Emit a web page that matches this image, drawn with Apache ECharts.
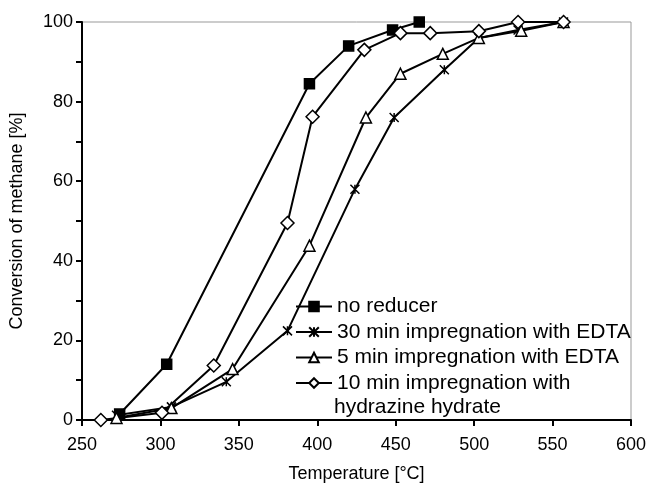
<!DOCTYPE html>
<html>
<head>
<meta charset="utf-8">
<script src="https://cdn.jsdelivr.net/npm/echarts@6/dist/echarts.min.js"></script>
<style>
  html, body { margin: 0; padding: 0; background: #fff; }
  #chart { width: 654px; height: 494px; }
</style>
</head>
<body>
<div id="chart"></div>
<script>
// values: [temperature °C, conversion %]
var noReducer = [[274, 1.5], [304, 14], [395, 84.5], [420, 94], [448, 98], [465, 100]];
var edta30 = [[272, 1.2], [307, 3.3], [342, 9.6], [381, 22.4], [424, 58], [449, 76], [481, 88], [503, 96], [528, 98], [557, 100]];
var edta5 = [[272, 0.5], [307, 3], [346, 12.8], [395, 43.8], [431, 76], [453, 87], [480, 92], [503, 96], [530, 97.8], [557, 100]];
var hydrazine = [[262, 0], [301, 1.8], [334, 13.7], [381, 49.5], [397, 76.2], [430, 93], [453, 97.2], [472, 97.2], [503, 97.7], [528, 100], [557, 100]];

var names = ['no reducer', '30 min impregnation with EDTA', '5 min impregnation with EDTA', '10 min impregnation with hydrazine hydrate'];
var xTicks = { min: 250, max: 600, step: 50 };
var yTicks = { min: 0, max: 100, step: 20 };

var font = 'Liberation Sans, Arial, sans-serif';
var starPath = 'path://M0,0L10,10M10,0L0,10M5,0L5,10';

function line(name, data, symbol, size, fill) {
  return {
    name: name,
    type: 'line',
    data: data,
    symbol: symbol,
    symbolSize: size,
    showSymbol: true,
    lineStyle: { color: '#000', width: 2 },
    itemStyle: { color: fill, borderColor: '#000', borderWidth: 1.5 },
    emphasis: { disabled: true },
    animation: false
  };
}

var myChart = echarts.init(document.getElementById('chart'));
var option = {
  backgroundColor: '#fff',
  textStyle: { fontFamily: font },
  grid: {
    left: 78, right: 23, top: 22, bottom: 74,
    show: true, borderColor: '#999', borderWidth: 1
  },
  xAxis: {
    type: 'value',
    min: xTicks.min, max: xTicks.max, interval: xTicks.step,
    name: 'Temperature [°C]',
    nameLocation: 'middle',
    nameGap: 45,
    nameTextStyle: { color: '#000', fontSize: 18, fontFamily: font },
    axisLine: { lineStyle: { color: '#000', width: 2 } },
    axisTick: { show: true, length: 6, lineStyle: { color: '#000', width: 2 } },
    axisLabel: { color: '#000', fontSize: 18, margin: 16, fontFamily: font },
    splitLine: { show: false }
  },
  yAxis: {
    type: 'value',
    min: yTicks.min, max: yTicks.max, interval: yTicks.step,
    name: 'Conversion of methane [%]',
    nameLocation: 'middle',
    nameGap: 56,
    nameTextStyle: { color: '#000', fontSize: 18, fontFamily: font },
    axisLine: { lineStyle: { color: '#000', width: 2 } },
    axisTick: { show: true, length: 6, lineStyle: { color: '#000', width: 2 } },
    minorTick: { show: true, splitNumber: 2, length: 6, lineStyle: { color: '#000', width: 2 } },
    axisLabel: { color: '#000', fontSize: 18, margin: 9, fontFamily: font },
    splitLine: { show: false }
  },
  legend: {
    orient: 'vertical',
    left: 290,
    top: 291,
    itemWidth: 36,
    itemHeight: 12,
    itemGap: 4.5,
    data: names,
    formatter: function (n) {
      return n === names[3] ? '10 min impregnation with' : n;
    },
    textStyle: { color: '#000', fontSize: 21, lineHeight: 21, fontFamily: font }
  },
  graphic: [{
    type: 'text',
    left: 334,
    top: 397,
    style: { text: 'hydrazine hydrate', fill: '#000', font: '21px ' + font }
  }],
  series: [
    line(names[0], noReducer, 'rect', 10, '#000'),
    line(names[1], edta30, starPath, 9, '#000'),
    line(names[2], edta5, 'triangle', 11, '#fff'),
    line(names[3], hydrazine, 'diamond', 13, '#fff')
  ]
};
myChart.setOption(option);
</script>
</body>
</html>
